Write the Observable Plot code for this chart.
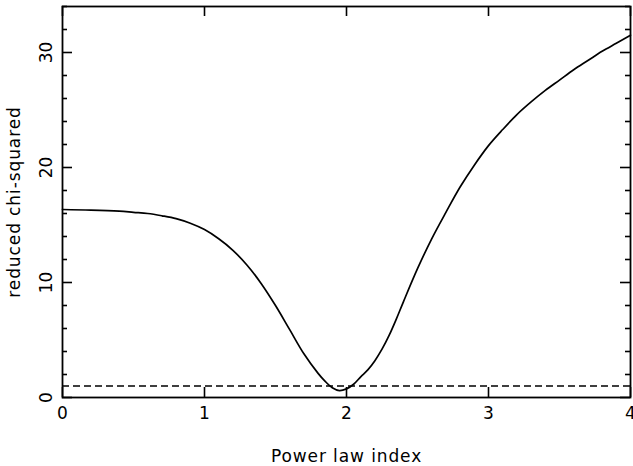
<!DOCTYPE html>
<html>
<head>
<meta charset="utf-8">
<script src="https://cdn.jsdelivr.net/npm/d3@7"></script>
<script src="https://cdn.jsdelivr.net/npm/@observablehq/plot@0.6"></script>
<style>
  html, body { margin: 0; padding: 0; background: #fff; }
  #chart svg { display: block; }
  #chart g[aria-label="x-axis label"] text,
  #chart g[aria-label="y-axis label"] text { letter-spacing: 0.9px; }
</style>
</head>
<body>
<div id="chart"></div>
<script>
// Power law index (x) and reduced chi-squared (y)
const indexValues = [0, 0.2, 0.4, 0.5, 0.6, 0.7, 0.8, 0.9, 1.0, 1.1, 1.2, 1.3, 1.4, 1.5, 1.6, 1.7, 1.8, 1.85, 1.9, 1.95, 2.0, 2.05, 2.1, 2.15, 2.2, 2.25, 2.3, 2.35, 2.4, 2.5, 2.6, 2.7, 2.8, 2.9, 3.0, 3.1, 3.2, 3.3, 3.4, 3.5, 3.6, 3.7, 3.8, 3.9, 4.0];
const chiValues   = [16.35, 16.3, 16.2, 16.1, 16.0, 15.8, 15.55, 15.15, 14.6, 13.8, 12.8, 11.5, 9.9, 8.0, 5.9, 3.8, 2.1, 1.4, 0.85, 0.6, 0.75, 1.15, 1.8, 2.4, 3.2, 4.2, 5.4, 6.8, 8.3, 11.2, 13.8, 16.1, 18.3, 20.2, 21.9, 23.3, 24.6, 25.7, 26.7, 27.6, 28.5, 29.3, 30.1, 30.8, 31.5];
const referenceLevel = [1];
const xTicks = [0, 1, 2, 3, 4];
const yMajorTicks = [0, 10, 20, 30];
const yMinorTicks = [2, 4, 6, 8, 12, 14, 16, 18, 22, 24, 26, 28, 32, 34];
const xLabel = "Power law index";
const yLabel = "reduced chi-squared";

const curve = indexValues.map((x, i) => ({x, y: chiValues[i]}));
const xDomain = [0, 4], yDomain = [0, 34];

const W = 633, H = 466, ML = 62, MR = 3, MT = 6, MB = 69;
const innerW = W - ML - MR, innerH = H - MT - MB;
const major = 10, minor = 5;
const ts = {stroke: "#000", strokeWidth: 1.6};

const chart = Plot.plot({
  width: W,
  height: H,
  marginLeft: ML,
  marginRight: MR,
  marginTop: MT,
  marginBottom: MB,
  style: {fontFamily: "DejaVu Sans", fontSize: "16px", color: "#000", background: "#fff"},
  x: {domain: xDomain},
  y: {domain: yDomain},
  marks: [
    // inward tick marks on all four sides
    Plot.ruleX(xTicks, {x: d => d, insetTop: innerH - major, ...ts}),
    Plot.ruleX(xTicks, {x: d => d, insetBottom: innerH - major, ...ts}),
    Plot.ruleY(yMajorTicks, {y: d => d, insetRight: innerW - major, ...ts}),
    Plot.ruleY(yMajorTicks, {y: d => d, insetLeft: innerW - major, ...ts}),
    Plot.ruleY(yMinorTicks, {y: d => d, insetRight: innerW - minor, ...ts}),
    Plot.ruleY(yMinorTicks, {y: d => d, insetLeft: innerW - minor, ...ts}),
    // tick labels and axis titles
    Plot.axisX(xTicks, {anchor: "bottom", tickSize: 0, tickPadding: 9, tickFormat: d => String(d), label: xLabel, labelAnchor: "center", labelOffset: 64, labelArrow: "none", fontSize: 17}),
    Plot.axisY(yMajorTicks, {anchor: "left", tickSize: 0, tickPadding: 11, tickRotate: -90, tickFormat: d => String(d), label: yLabel, labelAnchor: "center", labelOffset: 55, labelArrow: "none", fontSize: 17}),
    Plot.ruleY(referenceLevel, {stroke: "#000", strokeWidth: 1.4, strokeDasharray: "7,4"}),
    Plot.line(curve, {x: "x", y: "y", curve: "catmull-rom", stroke: "#000", strokeWidth: 1.7}),
    Plot.frame({stroke: "#000", strokeWidth: 1.8})
  ]
});
document.getElementById("chart").appendChild(chart);
</script>
</body>
</html>
